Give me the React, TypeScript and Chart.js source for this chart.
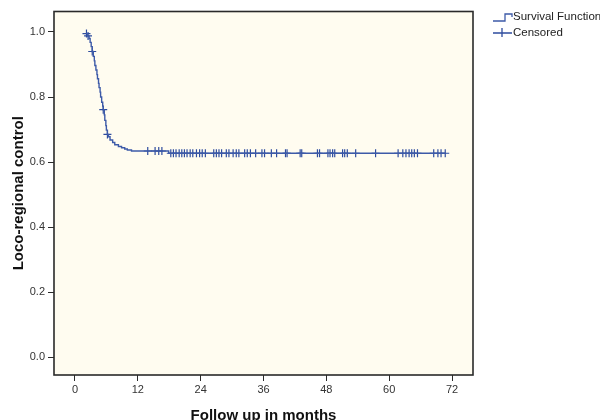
import React, { useEffect, useRef } from "react";
import { Chart, registerables } from "chart.js";

Chart.register(...registerables);

// Kaplan-Meier step curve (time in months, survival proportion)
const survTimes = [
  2.1, 2.4, 2.7, 2.9, 3.1, 3.3, 3.5, 3.7, 3.8, 4.0, 4.2, 4.3, 4.5, 4.6, 4.8, 4.9,
  5.1, 5.3, 5.4, 5.6, 5.7, 5.9, 6.0, 6.2, 6.4, 6.7, 7.2, 7.6, 8.3, 8.9, 9.5, 10.0,
  10.8, 17.9, 70.8,
];
const survValues = [
  0.995, 0.988, 0.98, 0.968, 0.955, 0.94, 0.925, 0.911, 0.897, 0.883, 0.869, 0.856,
  0.842, 0.829, 0.815, 0.8, 0.784, 0.772, 0.761, 0.745, 0.728, 0.712, 0.698, 0.685,
  0.678, 0.668, 0.66, 0.653, 0.648, 0.644, 0.64, 0.637, 0.634, 0.627, 0.627,
];

// Censored observations (months)
const censorTimes = [
  2.2, 2.5, 3.3, 5.4, 6.2, 13.9, 15.3, 16.0, 16.6, 18.3, 18.8, 19.3, 19.9, 20.4,
  20.9, 21.4, 22.0, 22.5, 23.2, 23.8, 24.3, 24.9, 26.5, 27.0, 27.5, 28.0, 28.9,
  29.4, 30.2, 30.8, 31.3, 32.4, 32.9, 33.5, 34.5, 35.7, 36.2, 37.5, 38.5, 40.2,
  40.5, 43.0, 43.3, 46.3, 46.7, 48.3, 48.7, 49.2, 49.6, 51.1, 51.5, 52.0, 53.6,
  57.4, 61.7, 62.6, 63.2, 63.8, 64.3, 64.8, 65.4, 68.5, 69.3, 69.9, 70.7,
];

const xTicks = [0, 12, 24, 36, 48, 60, 72];
const yTicks = [0, 0.2, 0.4, 0.6, 0.8, 1.0];
const legendLabels = ["Survival Function", "Censored"];
const xTitle = "Follow up in months";
const yTitle = "Loco-regional control";

const LINE_COLOR = "#3d5aa8";
const MARK_COLOR = "#2e4c9e";

function survivalAt(t: number): number {
  let v = survValues[0];
  for (let i = 0; i < survTimes.length; i++) {
    if (survTimes[i] <= t) v = survValues[i];
  }
  return v;
}

const framePlugin = {
  id: "frameAndLegend",
  beforeDraw(chart: any) {
    const { ctx, chartArea: a } = chart;
    ctx.save();
    ctx.fillStyle = "#fffcf0";
    ctx.fillRect(a.left, a.top, a.right - a.left, a.bottom - a.top);
    ctx.restore();
  },
  afterDraw(chart: any) {
    const { ctx, chartArea: a } = chart;
    ctx.save();
    ctx.strokeStyle = "#2a2a2a";
    ctx.lineWidth = 1.6;
    ctx.strokeRect(a.left, a.top, a.right - a.left, a.bottom - a.top);

    // legend
    const lx = a.right + 20;
    const y1 = a.top + 5;
    const y2 = a.top + 21.5;
    ctx.strokeStyle = LINE_COLOR;
    ctx.lineWidth = 1.3;
    ctx.beginPath();
    ctx.moveTo(lx, y1 + 4.5);
    ctx.lineTo(lx + 12, y1 + 4.5);
    ctx.lineTo(lx + 12, y1 - 2.5);
    ctx.lineTo(lx + 19, y1 - 2.5);
    ctx.lineTo(lx + 19, y1 + 0.5);
    ctx.stroke();
    ctx.strokeStyle = MARK_COLOR;
    ctx.beginPath();
    ctx.moveTo(lx, y2);
    ctx.lineTo(lx + 19, y2);
    ctx.moveTo(lx + 9, y2 - 5);
    ctx.lineTo(lx + 9, y2 + 4);
    ctx.stroke();
    ctx.fillStyle = "#222";
    ctx.font = "11.5px 'Liberation Sans', Arial, sans-serif";
    ctx.textBaseline = "middle";
    ctx.textAlign = "left";
    ctx.fillText(legendLabels[0], lx + 20, y1 + 0.5);
    ctx.fillText(legendLabels[1], lx + 20, y2);
    ctx.restore();
  },
};

export default function App() {
  const ref = useRef<HTMLCanvasElement | null>(null);

  useEffect(() => {
    if (!ref.current) return;
    const curve = survTimes.map((t, i) => ({ x: t, y: survValues[i] }));
    const censored = censorTimes.map((t) => ({ x: t, y: survivalAt(t) }));
    const tickFont = { family: "'Liberation Sans', Arial, sans-serif", size: 11 };
    const titleFont = { family: "'Liberation Sans', Arial, sans-serif", size: 15, weight: "bold" as const };

    const chart = new Chart(ref.current, {
      type: "scatter",
      data: {
        datasets: [
          {
            label: legendLabels[0],
            data: curve,
            showLine: true,
            stepped: true,
            borderColor: LINE_COLOR,
            borderWidth: 1.4,
            pointRadius: 0,
            fill: false,
          },
          {
            label: legendLabels[1],
            data: censored,
            showLine: false,
            pointStyle: "cross",
            pointRadius: 4,
            borderColor: MARK_COLOR,
            borderWidth: 1.2,
            backgroundColor: MARK_COLOR,
          },
        ],
      },
      options: {
        animation: false,
        responsive: false,
        maintainAspectRatio: false,
        layout: { padding: { left: 0, top: 11.5, right: 127, bottom: 0 } },
        plugins: { legend: { display: false }, tooltip: { enabled: false } },
        scales: {
          x: {
            type: "linear",
            min: -4,
            max: 76,
            afterBuildTicks: (s: any) => {
              s.ticks = xTicks.map((v) => ({ value: v }));
            },
            afterFit: (s: any) => {
              s.height = 45;
            },
            border: { display: false },
            grid: { drawOnChartArea: false, drawTicks: true, tickLength: 6, color: "#2a2a2a", lineWidth: 1 },
            ticks: { font: tickFont, color: "#333", padding: 2, maxRotation: 0, callback: (v: any) => String(v) },
            title: { display: true, text: xTitle, font: titleFont, color: "#111", padding: { top: 0, bottom: -5 } },
          },
          y: {
            type: "linear",
            min: -0.055,
            max: 1.063,
            afterBuildTicks: (s: any) => {
              s.ticks = yTicks.map((v) => ({ value: v }));
            },
            afterFit: (s: any) => {
              s.width = 54;
            },
            border: { display: false },
            grid: { drawOnChartArea: false, drawTicks: true, tickLength: 6, color: "#2a2a2a", lineWidth: 1 },
            ticks: { font: tickFont, color: "#333", padding: 3, callback: (v: any) => Number(v).toFixed(1) },
            title: { display: true, text: yTitle, font: titleFont, color: "#111", padding: { top: 10, bottom: 0 } },
          },
        },
      },
      plugins: [framePlugin],
    });
    return () => chart.destroy();
  }, []);

  return (
    <div style={{ position: "absolute", left: 0, top: 0, width: 600, height: 420, background: "#fff" }}>
      <canvas ref={ref} width={600} height={420} style={{ display: "block", width: 600, height: 420 }} />
    </div>
  );
}
